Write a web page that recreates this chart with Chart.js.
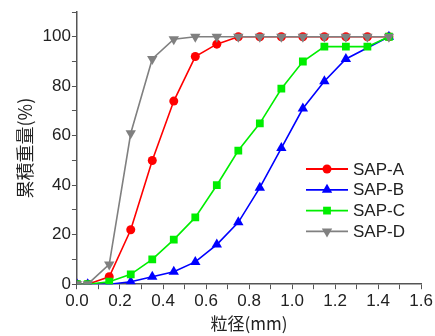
<!DOCTYPE html>
<html>
<head>
<meta charset="utf-8">
<script src="https://cdn.jsdelivr.net/npm/chart.js@4/dist/chart.umd.min.js"></script>
<style>
  html, body { margin: 0; padding: 0; background: #fff; }
  #wrap { width: 435px; height: 336px; }
</style>
</head>
<body>
<div id="wrap"><canvas id="chart"></canvas></div>
<script>
// particle size (mm)
const sizes = [0, 0.05, 0.15, 0.25, 0.35, 0.45, 0.55, 0.65, 0.75, 0.85, 0.95, 1.05, 1.15, 1.25, 1.35, 1.45];
// cumulative weight (%)
const sapA = [0, 0, 3, 22, 50, 74, 92, 97, 100, 100, 100, 100, 100, 100, 100, 100];
const sapB = [0, 0, 0, 1, 3, 5, 9, 16, 25, 39, 55, 71, 82, 91, null, 100];
const sapC = [0, 0, 1, 4, 10, 18, 27, 40, 54, 65, 79, 90, 96, 96, 96, 100];
const sapD = [0, 0, 8, 61, 91, 99, 100, 100, 100, 100, 100, 100, 100, 100, 100, 100];

const seriesNames = ["SAP-A", "SAP-B", "SAP-C", "SAP-D"];
const colors = ["#ff0000", "#0000ff", "#00ee00", "#808080"];
const markers = ["circle", "triangle", "rect", "triangle"];
const rotations = [0, 0, 0, 180];
const radii = [4.5, 6, 5.5, 6];

Chart.defaults.font.family = "'Liberation Sans', Arial, sans-serif";
Chart.defaults.font.size = 17;
Chart.defaults.color = "#222";

function toPoints(vals) {
  return sizes.map(function (x, i) {
    return { x: x, y: vals[i] };
  });
}

const allSeries = [sapA, sapB, sapC, sapD];
const datasets = allSeries.map(function (vals, i) {
  return {
    label: seriesNames[i],
    data: toPoints(vals),
    borderColor: colors[i],
    backgroundColor: colors[i],
    borderWidth: 1.6,
    pointStyle: markers[i],
    rotation: rotations[i],
    pointRadius: radii[i],
    pointBorderWidth: 0,
    tension: 0,
    spanGaps: true,
    order: 4 - i,
  };
});

function drawMarker(ctx, style, x, y, r, rot) {
  ctx.beginPath();
  if (style === "circle") {
    ctx.arc(x, y, r, 0, Math.PI * 2);
  } else if (style === "rect") {
    const s = r * Math.SQRT1_2;
    ctx.rect(x - s, y - s, s * 2, s * 2);
  } else {
    const a = (rot * Math.PI) / 180;
    for (let k = 0; k < 3; k++) {
      const t = a - Math.PI / 2 + (k * 2 * Math.PI) / 3;
      const px = x + Math.cos(t) * r;
      const py = y + Math.sin(t) * r;
      if (k === 0) ctx.moveTo(px, py);
      else ctx.lineTo(px, py);
    }
    ctx.closePath();
  }
  ctx.fill();
}

const insideLegend = {
  id: "insideLegend",
  afterDraw(chart) {
    const ctx = chart.ctx;
    const x0 = 306, y0 = 169, rowH = 20.8;
    ctx.save();
    seriesNames.forEach(function (name, i) {
      const y = y0 + i * rowH;
      ctx.strokeStyle = colors[i];
      ctx.fillStyle = colors[i];
      ctx.lineWidth = 1.8;
      ctx.beginPath();
      ctx.moveTo(x0, y);
      ctx.lineTo(x0 + 42, y);
      ctx.stroke();
      drawMarker(ctx, markers[i], x0 + 21, y, radii[i], rotations[i]);
      ctx.fillStyle = "#222";
      ctx.font = "17px 'Liberation Sans', Arial, sans-serif";
      ctx.textBaseline = "middle";
      ctx.fillText(name, x0 + 47, y + 1);
    });
    ctx.restore();
  },
};

new Chart("chart", {
  type: "line",
  data: { datasets: datasets },
  plugins: [insideLegend],
  options: {
    responsive: true,
    maintainAspectRatio: false,
    animation: false,
    layout: { padding: { top: 12, right: 2, left: 14, bottom: 2 } },
    plugins: {
      legend: { display: false },
      tooltip: { enabled: false },
    },
    scales: {
      x: {
        type: "linear",
        min: 0,
        max: 1.6,
        border: { color: "#555", width: 1.5 },
        grid: { drawOnChartArea: false, tickLength: 5, color: "#555", tickColor: "#555" },
        ticks: {
          stepSize: 0.1,
          autoSkip: false,
          maxRotation: 0,
          padding: 2,
          callback: function (v) {
            const n = Math.round(v * 10);
            return n % 2 === 0 ? (n / 10).toFixed(1) : "";
          },
        },
        title: {
          display: true,
          text: "粒径(mm)",
          font: { family: "'Noto Sans CJK JP', sans-serif", size: 17 },
          padding: { top: 0, bottom: 0 },
        },
      },
      y: {
        min: 0,
        max: 110,
        border: { color: "#555", width: 1.5 },
        grid: { drawOnChartArea: false, tickLength: 5, color: "#555", tickColor: "#555" },
        ticks: {
          stepSize: 10,
          padding: 1,
          callback: function (v) {
            return v % 20 === 0 && v <= 100 ? String(v) : "";
          },
        },
        title: {
          display: true,
          text: "累積重量(%)",
          font: { family: "'Noto Sans CJK JP', sans-serif", size: 18 },
          padding: { top: 0, bottom: 6 },
        },
      },
    },
  },
});
</script>
</body>
</html>
